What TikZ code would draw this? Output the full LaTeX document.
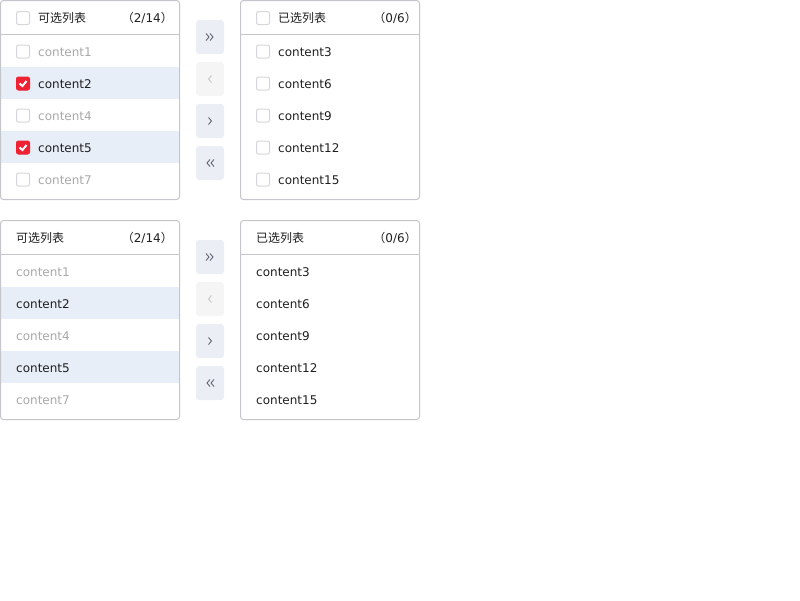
\documentclass[tikz,border=0pt]{standalone}
\usepackage{fontspec}
\setmainfont{DejaVu Sans}
\newfontfamily\cjk{Noto Sans CJK SC}
\definecolor{framegray}{HTML}{C4C6CC}
\definecolor{boxgray}{HTML}{D4D6DB}
\definecolor{hlblue}{HTML}{E8EEF8}
\definecolor{checkred}{HTML}{EE2233}
\definecolor{btnblue}{HTML}{ECEEF6}
\definecolor{btngrey}{HTML}{F5F5F5}
\definecolor{icongray}{HTML}{606470}
\definecolor{iconoff}{HTML}{C4C6CC}
\definecolor{darktext}{HTML}{1F1F1F}
\definecolor{greytext}{HTML}{A8A8A8}
\begin{document}
\begin{tikzpicture}
	[	x=1pt,y=-1pt,
		panel/.style={draw=framegray, line width=1pt, rounded corners=3pt},
		rowbar/.style={fill=hlblue, draw=none},
		cbox/.style={rectangle, draw=boxgray, fill=white, line width=1pt, rounded corners=2pt, minimum size=13pt, inner sep=0pt},
		cboxon/.style={cbox, draw=checkred, fill=checkred},
		tick/.style={draw=white, line width=2pt},
		item/.style={anchor=base west, inner sep=0pt, font=\fontsize{12}{14}\selectfont, text=darktext},
		dim/.style={item, text=greytext},
		title/.style={anchor=base west, inner sep=0pt, font=\fontsize{12}{14}\selectfont\cjk, text=darktext},
		count/.style={anchor=base east, inner sep=0pt, font=\fontsize{12}{14}\selectfont, text=darktext},
		btn/.style={rectangle, fill=btnblue, rounded corners=3pt, minimum width=28pt, minimum height=34pt, inner sep=0pt},
		btnoff/.style={btn, fill=btngrey},
		chev/.style={draw=icongray, line width=0.9pt},
		chevoff/.style={draw=iconoff, line width=0.9pt}
		]
		\useasboundingbox (0,0) rectangle (800,600);

% top left list
		\fill[rowbar] (1,67) rectangle (179,99);
		\fill[rowbar] (1,131) rectangle (179,163);
		\draw[panel] (0.5,0.5) rectangle (179.5,199.5);
		\draw[framegray, line width=1pt] (0.5,34.5) -- (179.5,34.5);
		\node[cbox] (srcall) at (23,18){};
		\node[title] (srctitle) at (38,22){可选列表};
		\node[count] (srccount) at (173,22){{\cjk （}2/14{\cjk ）}};
		\node[cbox] (srcbox1) at (23,51.5){};
		\node[dim] (src1) at (38,56){content1};
		\node[cboxon] (srcbox2) at (23,83.5){};
		\node[item] (src2) at (38,88){content2};
		\node[cbox] (srcbox4) at (23,115.5){};
		\node[dim] (src4) at (38,120){content4};
		\node[cboxon] (srcbox5) at (23,147.5){};
		\node[item] (src5) at (38,152){content5};
		\node[cbox] (srcbox7) at (23,179.5){};
		\node[dim] (src7) at (38,184){content7};
		\draw[tick] (19.5,83.5) -- (22.5,86) -- (26.5,81);
		\draw[tick] (19.5,147.5) -- (22.5,150) -- (26.5,145);

% top buttons
		\node[btn] (allright) at (210,37){};
		\node[btnoff] (left) at (210,79){};
		\node[btn] (right) at (210,121){};
		\node[btn] (allleft) at (210,163){};
		\draw[chev] (206,33.5) -- (209,37) -- (206,40.5);
		\draw[chev] (210,33.5) -- (213,37) -- (210,40.5);
		\draw[chevoff] (211.5,75.5) -- (208.5,79) -- (211.5,82.5);
		\draw[chev] (208.5,117.5) -- (211.5,121) -- (208.5,124.5);
		\draw[chev] (210,159.5) -- (207,163) -- (210,166.5);
		\draw[chev] (214,159.5) -- (211,163) -- (214,166.5);

% top right list
		\draw[panel] (240.5,0.5) rectangle (419.5,199.5);
		\draw[framegray, line width=1pt] (240.5,34.5) -- (419.5,34.5);
		\node[cbox] (dstall) at (263,18){};
		\node[title] (dsttitle) at (278,22){已选列表};
		\node[count] (dstcount) at (417,22){{\cjk （}0/6{\cjk ）}};
		\node[cbox] (dstbox3) at (263,51.5){};
		\node[item] (dst3) at (278,56){content3};
		\node[cbox] (dstbox6) at (263,83.5){};
		\node[item] (dst6) at (278,88){content6};
		\node[cbox] (dstbox9) at (263,115.5){};
		\node[item] (dst9) at (278,120){content9};
		\node[cbox] (dstbox12) at (263,147.5){};
		\node[item] (dst12) at (278,152){content12};
		\node[cbox] (dstbox15) at (263,179.5){};
		\node[item] (dst15) at (278,184){content15};

% bottom left list
		\fill[rowbar] (1,287) rectangle (179,319);
		\fill[rowbar] (1,351) rectangle (179,383);
		\draw[panel] (0.5,220.5) rectangle (179.5,419.5);
		\draw[framegray, line width=1pt] (0.5,254.5) -- (179.5,254.5);
		\node[title] (srctitleb) at (16,242){可选列表};
		\node[count] (srccountb) at (173,242){{\cjk （}2/14{\cjk ）}};
		\node[dim] (src1b) at (16,276){content1};
		\node[item] (src2b) at (16,308){content2};
		\node[dim] (src4b) at (16,340){content4};
		\node[item] (src5b) at (16,372){content5};
		\node[dim] (src7b) at (16,404){content7};

% bottom buttons
		\node[btn] (allrightb) at (210,257){};
		\node[btnoff] (leftb) at (210,299){};
		\node[btn] (rightb) at (210,341){};
		\node[btn] (allleftb) at (210,383){};
		\draw[chev] (206,253.5) -- (209,257) -- (206,260.5);
		\draw[chev] (210,253.5) -- (213,257) -- (210,260.5);
		\draw[chevoff] (211.5,295.5) -- (208.5,299) -- (211.5,302.5);
		\draw[chev] (208.5,337.5) -- (211.5,341) -- (208.5,344.5);
		\draw[chev] (210,379.5) -- (207,383) -- (210,386.5);
		\draw[chev] (214,379.5) -- (211,383) -- (214,386.5);

% bottom right list
		\draw[panel] (240.5,220.5) rectangle (419.5,419.5);
		\draw[framegray, line width=1pt] (240.5,254.5) -- (419.5,254.5);
		\node[title] (dsttitleb) at (256,242){已选列表};
		\node[count] (dstcountb) at (417,242){{\cjk （}0/6{\cjk ）}};
		\node[item] (dst3b) at (256,276){content3};
		\node[item] (dst6b) at (256,308){content6};
		\node[item] (dst9b) at (256,340){content9};
		\node[item] (dst12b) at (256,372){content12};
		\node[item] (dst15b) at (256,404){content15};
	\end{tikzpicture}
\end{document}
